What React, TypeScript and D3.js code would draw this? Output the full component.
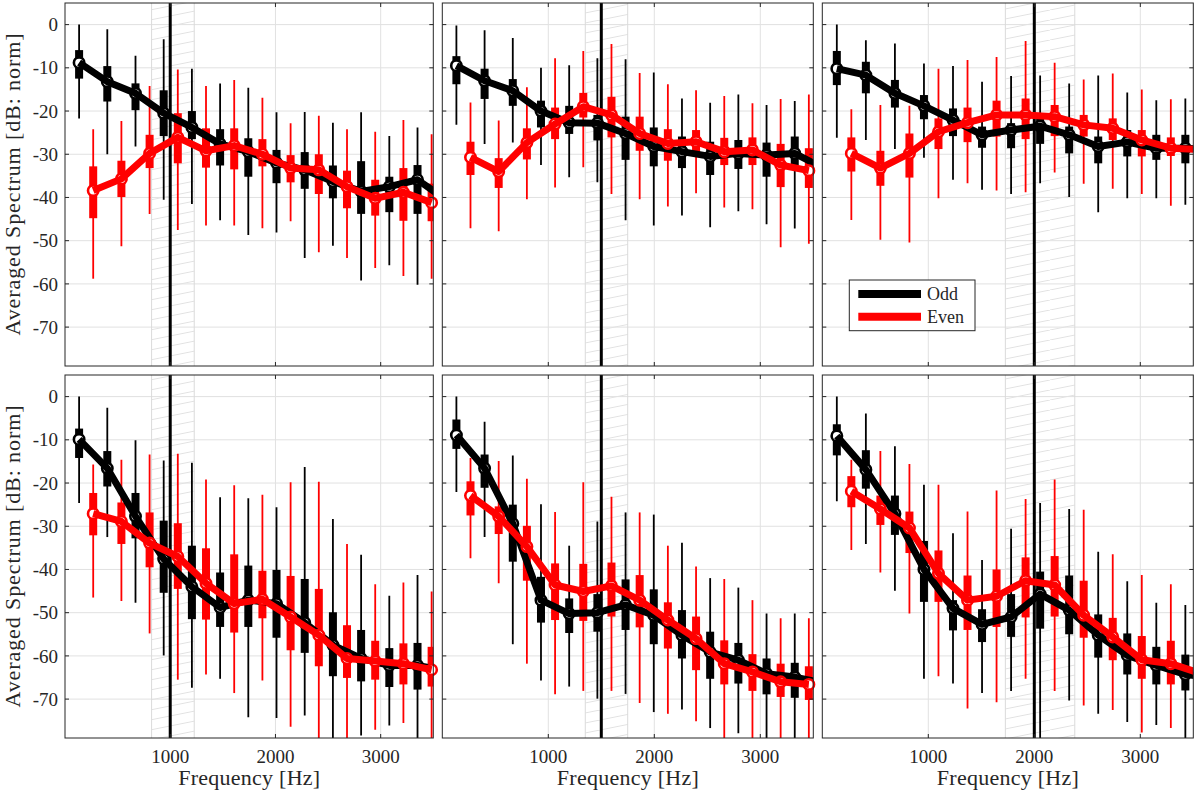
import React from 'react';
import * as d3 from 'd3';

// ---------- data ----------
const X_TICKS = [1000, 2000, 3000];
const Y_TICKS = [0, -10, -20, -30, -40, -50, -60, -70];
const X_DOMAIN = [0, 3500];
const Y_DOMAIN = [-79, 5];
const F0 = [134, 133, 137]; // fundamental per column (Hz)
const TARGET_HZ = [1000, 1500, 2000];
const BAND_LO = [823, 1349, 1727];
const BAND_HI = [1228, 1749, 2382];
const SERIES = ['Odd', 'Even'];
const COLORS = ['#000000', '#ff0000'];

// each entry: [whiskerTop, boxTop, median, boxBottom, whiskerBottom]
// odd harmonics k = 1,3,5,... ; even harmonics k = 2,4,6,...
const p1Odd = [
  [0, -5.9, -8.8, -12.5, -21.7], [-1.1, -9.6, -13.2, -17.8, -30], [-7.2, -13.6, -15.9, -19.8, -28.2],
  [-3.4, -15.2, -20.5, -25.8, -40.5], [-10.2, -20, -23.8, -26.5, -41.5], [-13.6, -24.2, -27.6, -32.6, -45.3],
  [-14.6, -26.3, -29.4, -35.2, -48.7], [-20.3, -29, -32, -36.7, -48.1], [-20.2, -29.5, -33.6, -38, -54],
  [-22.7, -32.6, -36.3, -40.2, -51.2], [-20.3, -31.6, -38.6, -43.8, -59.2], [-25.8, -35.2, -37.5, -43.4, -55.7],
  [-23.8, -32.5, -35.9, -43.8, -60.2], [-26, -36, -40.5, -45, -58],
];
const p1Even = [
  [-24.2, -32.8, -38.4, -44.8, -58.8], [-22.3, -31.5, -35.7, -39.9, -51.3], [-14.2, -25.5, -29.8, -33.2, -43.8],
  [-10.4, -20.5, -26.1, -32.1, -47.5], [-14.2, -24, -29.2, -33.1, -46.5], [-12.8, -24, -28, -33.5, -46.5],
  [-16.9, -26.5, -30, -32.8, -47.1], [-22.8, -30.2, -33.2, -36.5, -45.5], [-21.1, -30, -33.6, -39.2, -52.7],
  [-24.2, -33.8, -37.5, -42.5, -54], [-24.8, -35.9, -40.2, -44.2, -56.3], [-22.1, -33.2, -38.8, -45.4, -58.2],
  [-25.4, -36.8, -41.2, -45.5, -58.8],
];
const p2Odd = [
  [-0.2, -7.3, -9.5, -13.8, -23.2], [-1.3, -10.2, -13, -17.2, -27.6], [-3.1, -12.6, -15.3, -18.8, -27.3],
  [-10, -17.6, -20, -23.8, -32.5], [-9.4, -18.8, -22.7, -25.3, -35.3], [-7.8, -20.9, -22.8, -26.8, -36.5],
  [-8, -21.3, -25.2, -31.3, -45.3], [-11.1, -23.8, -28.2, -32.8, -46.5], [-17.1, -25.9, -29.4, -33.2, -44.2],
  [-18.1, -27.1, -30.5, -34.8, -46.9], [-16.2, -26.7, -29.8, -33.4, -43.2], [-18.6, -27.3, -30.2, -35.2, -46.2],
  [-17.7, -25.9, -29.8, -32.5, -47.2], [-20, -28, -33.2, -37, -48],
];
const p2Even = [
  [-18, -27.1, -30.7, -34.8, -47.1], [-22.2, -30.9, -34, -37.8, -47.8], [-14.5, -24, -27.3, -31.2, -40.4],
  [-7.8, -19.2, -23, -26.5, -37.7], [-6.1, -15.8, -19, -21.5, -33], [-4.5, -16.7, -20.9, -26.1, -39.2],
  [-11.2, -21.3, -25.2, -29.2, -40.4], [-13.8, -24.2, -27.5, -31.5, -42.1], [-15.2, -24.4, -27.1, -29.8, -39],
  [-16.5, -26.2, -29.4, -32.5, -42.3], [-18.2, -26.1, -29, -32.5, -42.7], [-17.2, -27.6, -32.5, -37.6, -51.5],
  [-16.2, -28.6, -33.8, -37.8, -50.7],
];
const p3Odd = [
  [0, -6.1, -10.2, -14, -26.2], [-3.6, -8.6, -11.7, -15.9, -26.7], [-4.4, -12.8, -15.9, -19.2, -28.8],
  [-9, -16.3, -18.8, -21.9, -30.8], [-9.6, -19.4, -22.1, -25.8, -35.9], [-13.2, -23.6, -25.5, -28.5, -38.2],
  [-11.9, -22.8, -24.4, -28.6, -39.2], [-11.8, -21.7, -23.5, -27.6, -36.7], [-13.6, -23.6, -25.5, -29.8, -39.9],
  [-11.8, -25.9, -28.2, -32.1, -43.4], [-15.7, -24.4, -27.2, -30.5, -40.2], [-17.5, -25.5, -28.6, -31.3, -40.2],
  [-17.1, -25.5, -28.6, -32.1, -41.7], [-18, -26, -29, -32, -42],
];
const p3Even = [
  [-19.6, -26.1, -29.8, -34, -45.2], [-18.6, -29.2, -33.2, -37.3, -49.8], [-18.8, -25.2, -29.8, -35.4, -50.4],
  [-10.2, -21.7, -24.8, -28.8, -40.2], [-8.2, -19.2, -22.7, -27.2, -36.7], [-7.5, -17.6, -20.9, -25.9, -38.4],
  [-3.8, -17.1, -20.9, -26.5, -38.8], [-8.8, -18.6, -21.3, -25.8, -34.2], [-12.7, -20.9, -23.2, -25.9, -36.8],
  [-11.3, -21.7, -24, -26.7, -38], [-15, -24.4, -26.7, -30.5, -39.2], [-17.3, -26.1, -28.6, -30.4, -41.9],
  [-18, -26, -28.9, -31, -42],
];
const p4Odd = [
  [0, -7.4, -9.9, -14.2, -24.6], [-2.6, -12.6, -16.6, -20.8, -32.5], [-10.1, -22.3, -27.7, -32.8, -47.7],
  [-14.8, -28.7, -37.6, -45.4, -59.9], [-15.3, -34.5, -44, -51.5, -67.4], [-23.3, -40.7, -48.8, -53.3, -65.3],
  [-23.5, -39.1, -47.1, -53.3, -74.2], [-25.6, -40.1, -47.9, -55.8, -74.4], [-16.3, -42.2, -52.3, -59.3, -73.8],
  [-28.3, -49.9, -57.5, -64.7, -82], [-36.6, -54, -60.6, -65.9, -78.4], [-46.1, -58.2, -62.2, -67.2, -76.1],
  [-41.3, -57, -62.2, -67.8, -82], [-45, -58, -63.5, -69, -82],
];
const p4Even = [
  [-15.7, -22.3, -27.1, -32.1, -46.5], [-14.6, -24.5, -28.9, -34.1, -47.3], [-13.4, -26.8, -33.9, -39.5, -54.8],
  [-13.2, -29.3, -37, -44.5, -65.5], [-19.2, -35.1, -43.2, -51.6, -64.3], [-20.5, -36.5, -47.9, -54.6, -68.6],
  [-22.7, -40.3, -46.9, -51.3, -65.7], [-19.8, -41.5, -51, -58.7, -76.4], [-19.7, -44.5, -55.2, -62.4, -82],
  [-34.1, -52.9, -60.6, -65.1, -82], [-43.4, -56.5, -61.2, -65.5, -77.1], [-43, -57.1, -61.8, -66.6, -75.5],
  [-45.1, -57.9, -63.2, -67.1, -82],
];
const p5Odd = [
  [0, -5.3, -8.9, -12.1, -22.1], [-5.8, -13.4, -16.6, -21.1, -32.5], [-13.6, -25, -29.4, -38.2, -57.3],
  [-24.9, -41.7, -47.1, -52.3, -65.7], [-34.5, -46.7, -50.2, -54.7, -67.1], [-28.9, -45.7, -50, -54.4, -69.9],
  [-26.8, -42.3, -48.2, -54, -68.8], [-27.3, -44.6, -50.6, -57.3, -73], [-33.8, -49.4, -55.2, -60.6, -72.4],
  [-42, -54.4, -59.1, -65.3, -76.7], [-44.2, -57, -61, -66.4, -77.9], [-50.2, -60.6, -64.1, -68.9, -82],
  [-50.2, -61.6, -64.9, -69.7, -82], [-52, -62, -66.3, -70, -82],
];
const p5Even = [
  [-14.2, -19.6, -22.9, -27.5, -37.4], [-14.9, -25.4, -27.7, -31.8, -43.2], [-19, -29.9, -34.7, -42.6, -61.8],
  [-26.7, -38.6, -43.6, -51.7, -68.9], [-19.8, -38.7, -45.1, -51.9, -68.1], [-23.2, -38.4, -43.8, -50.9, -68.1],
  [-26.8, -41.3, -47.1, -53.4, -70.9], [-34.5, -47.6, -51.7, -58.3, -73.4], [-39.3, -50.9, -56, -63.3, -75.1],
  [-42.2, -56.4, -61.8, -66.6, -82], [-47.1, -59.6, -63.7, -68.1, -82], [-51.3, -61.8, -66, -69.5, -82],
  [-51.3, -62.4, -66.6, -70.2, -82],
];
const p6Odd = [
  [0, -6.4, -9.1, -13.6, -24.2], [-3.9, -12.4, -16.9, -21.3, -34.1], [-11.5, -22.9, -27.1, -32, -44.9],
  [-20.4, -33.4, -40, -47.5, -65.3], [-31.6, -47.1, -49, -54.1, -66.4], [-37.8, -49.2, -52.7, -56.8, -68.6],
  [-30.6, -45.7, -51, -55.6, -68.1], [-24.6, -40.5, -45.7, -53.7, -82], [-26, -41.4, -49.4, -55, -70.3],
  [-35.9, -50.4, -55.2, -60.4, -73.4], [-42.7, -54.8, -59.9, -64.3, -75.3], [-47.7, -57.9, -62.2, -66.6, -76],
  [-48.2, -59.7, -64.3, -68, -82], [-50, -60, -65, -69, -82],
];
const p6Even = [
  [-14.6, -18.4, -21.9, -25.6, -35.5], [-12.6, -22.9, -26, -29.7, -40.7], [-15.6, -26.6, -30.4, -36.2, -50.2],
  [-20.4, -35.6, -40.9, -47.5, -64.7], [-26.6, -41.4, -47.1, -54, -72.2], [-21.7, -40, -46.2, -53.3, -70.7],
  [-23.7, -37.2, -42.6, -51.1, -65.3], [-19.2, -36.9, -43.6, -50.9, -68.1], [-26.2, -42.6, -50.6, -55.8, -71.5],
  [-36.5, -51.2, -55.6, -61, -72.5], [-41.3, -55.4, -60.9, -65.3, -77.7], [-43.4, -56.5, -61.8, -66.6, -76.7],
  [-45, -57, -64, -68, -78],
];

const PANELS = [
  { r: 0, c: 0, odd: p1Odd, even: p1Even },
  { r: 0, c: 1, odd: p2Odd, even: p2Even },
  { r: 0, c: 2, odd: p3Odd, even: p3Even },
  { r: 1, c: 0, odd: p4Odd, even: p4Even },
  { r: 1, c: 1, odd: p5Odd, even: p5Even },
  { r: 1, c: 2, odd: p6Odd, even: p6Even },
];

// ---------- layout ----------
const W = 1200;
const H = 792;
const COL_LEFT = [65, 442.3, 822.3];
const COL_WIDTH = [368.3, 371, 371];
const ROW_TOP = [3, 375];
const ROW_HEIGHT = 363;
const FONT = "'Liberation Serif', 'Times New Roman', serif";
const AXIS = '#262626';
const GRID = '#e1e1e1';

type Stat = number[];

function Panel({ r, c, odd, even }: { r: number; c: number; odd: Stat[]; even: Stat[] }) {
  const x0 = COL_LEFT[c];
  const w = COL_WIDTH[c];
  const y0 = ROW_TOP[r];
  const h = ROW_HEIGHT;
  const x = d3.scaleLinear().domain(X_DOMAIN).range([x0, x0 + w]);
  const y = d3.scaleLinear().domain(Y_DOMAIN).range([y0 + h, y0]);
  const f0 = F0[c];
  const series = [
    odd.map((d, i) => ({ f: (2 * i + 1) * f0, d })),
    even.map((d, i) => ({ f: (2 * i + 2) * f0, d })),
  ];
  const line = d3
    .line<{ f: number; d: Stat }>()
    .x((p) => x(p.f))
    .y((p) => y(p.d[2]));
  const clipId = `clip-${r}-${c}`;
  const bandL = x(BAND_LO[c]);
  const bandR = x(BAND_HI[c]);
  const tickLen = 4;
  const boxW = 8;

  return (
    <g>
      <defs>
        <clipPath id={clipId}>
          <rect x={x0} y={y0} width={w} height={h} />
        </clipPath>
      </defs>
      <rect x={x0} y={y0} width={w} height={h} fill="#fff" />
      {/* grid */}
      {Y_TICKS.map((t) => (
        <line key={'gy' + t} x1={x0} x2={x0 + w} y1={y(t)} y2={y(t)} stroke={GRID} strokeWidth={1} />
      ))}
      {X_TICKS.map((t) => (
        <line key={'gx' + t} x1={x(t)} x2={x(t)} y1={y0} y2={y0 + h} stroke={GRID} strokeWidth={1} />
      ))}
      {/* hatched band */}
      <rect x={bandL} y={y0} width={bandR - bandL} height={h} fill="url(#hatch)" />
      <line x1={bandL} x2={bandL} y1={y0} y2={y0 + h} stroke="#dadada" strokeWidth={1} />
      <line x1={bandR} x2={bandR} y1={y0} y2={y0 + h} stroke="#dadada" strokeWidth={1} />
      {/* target line */}
      <line x1={x(TARGET_HZ[c])} x2={x(TARGET_HZ[c])} y1={y0} y2={y0 + h} stroke="#000" strokeWidth={3} />
      <g clipPath={`url(#${clipId})`}>
        {series.map((pts, si) =>
          pts.map((p, i) => (
            <g key={`b${si}-${i}`}>
              <line x1={x(p.f)} x2={x(p.f)} y1={y(p.d[0])} y2={y(p.d[4])} stroke={COLORS[si]} strokeWidth={1.8} />
              <rect
                x={x(p.f) - boxW / 2}
                y={y(p.d[1])}
                width={boxW}
                height={y(p.d[3]) - y(p.d[1])}
                fill={COLORS[si]}
              />
            </g>
          ))
        )}
      </g>
      {series.map((pts, si) => (
        <g key={'s' + si}>
          {pts
            .filter((p) => p.f <= X_DOMAIN[1])
            .map((p, i) => (
              <circle key={i} cx={x(p.f)} cy={y(p.d[2])} r={5.2} fill="#fff" stroke={COLORS[si]} strokeWidth={2.6} />
            ))}
          <path
            d={line(pts) || ''}
            fill="none"
            stroke={COLORS[si]}
            strokeWidth={7}
            strokeLinejoin="round"
            clipPath={`url(#${clipId})`}
          />
        </g>
      ))}
      {/* ticks */}
      {Y_TICKS.map((t) => (
        <g key={'ty' + t}>
          <line x1={x0} x2={x0 + tickLen} y1={y(t)} y2={y(t)} stroke={AXIS} />
          <line x1={x0 + w - tickLen} x2={x0 + w} y1={y(t)} y2={y(t)} stroke={AXIS} />
        </g>
      ))}
      {X_TICKS.map((t) => (
        <g key={'tx' + t}>
          <line x1={x(t)} x2={x(t)} y1={y0 + h} y2={y0 + h - tickLen} stroke={AXIS} />
          <line x1={x(t)} x2={x(t)} y1={y0} y2={y0 + tickLen} stroke={AXIS} />
        </g>
      ))}
      <rect x={x0} y={y0} width={w} height={h} fill="none" stroke={AXIS} strokeWidth={1} />
      {/* tick labels */}
      {c === 0 &&
        Y_TICKS.map((t) => (
          <text key={'ly' + t} x={x0 - 7} y={y(t)} dy="0.35em" textAnchor="end" fontSize={19} fontFamily={FONT} fill={AXIS}>
            {t}
          </text>
        ))}
      {r === 1 &&
        X_TICKS.map((t) => (
          <text key={'lx' + t} x={x(t)} y={y0 + h + 25} textAnchor="middle" fontSize={19} fontFamily={FONT} fill={AXIS}>
            {t}
          </text>
        ))}
      {r === 1 && (
        <text x={x0 + w / 2} y={y0 + h + 47} textAnchor="middle" fontSize={22} fontFamily={FONT} fill={AXIS} textLength={142} lengthAdjust="spacing">
          Frequency [Hz]
        </text>
      )}
      {c === 0 && (
        <text
          transform={`translate(20, ${y0 + h / 2}) rotate(-90)`}
          textAnchor="middle"
          fontSize={22}
          fontFamily={FONT}
          fill={AXIS}
          textLength={302}
          lengthAdjust="spacing"
        >
          Averaged Spectrum [dB: norm]
        </text>
      )}
      {r === 0 && c === 2 && (
        <g>
          <rect x={849.3} y={280} width={125.7} height={50.7} fill="#fff" stroke={AXIS} strokeWidth={1} />
          {SERIES.map((s, si) => (
            <g key={s}>
              <line x1={858.3} x2={921} y1={294 + si * 22.7} y2={294 + si * 22.7} stroke={COLORS[si]} strokeWidth={8} />
              <text x={927} y={294 + si * 22.7} dy="0.35em" fontSize={18} fontFamily={FONT} fill={AXIS}>
                {s}
              </text>
            </g>
          ))}
        </g>
      )}
    </g>
  );
}

export default function App() {
  return (
    <svg
      width={W}
      height={H}
      viewBox={`0 0 ${W} ${H}`}
      style={{ position: 'absolute', left: 0, top: 0, background: '#fff' }}
    >
      <defs>
        <pattern id="hatch" patternUnits="userSpaceOnUse" width={50} height={10}>
          <line x1={0} y1={10} x2={50} y2={0} stroke="#e2e2e2" strokeWidth={1} />
          <line x1={-50} y1={10} x2={0} y2={0} stroke="#e2e2e2" strokeWidth={1} />
          <line x1={50} y1={10} x2={100} y2={0} stroke="#e2e2e2" strokeWidth={1} />
        </pattern>
      </defs>
      <rect width={W} height={H} fill="#fff" />
      {PANELS.map((p) => (
        <Panel key={`${p.r}-${p.c}`} r={p.r} c={p.c} odd={p.odd} even={p.even} />
      ))}
    </svg>
  );
}
